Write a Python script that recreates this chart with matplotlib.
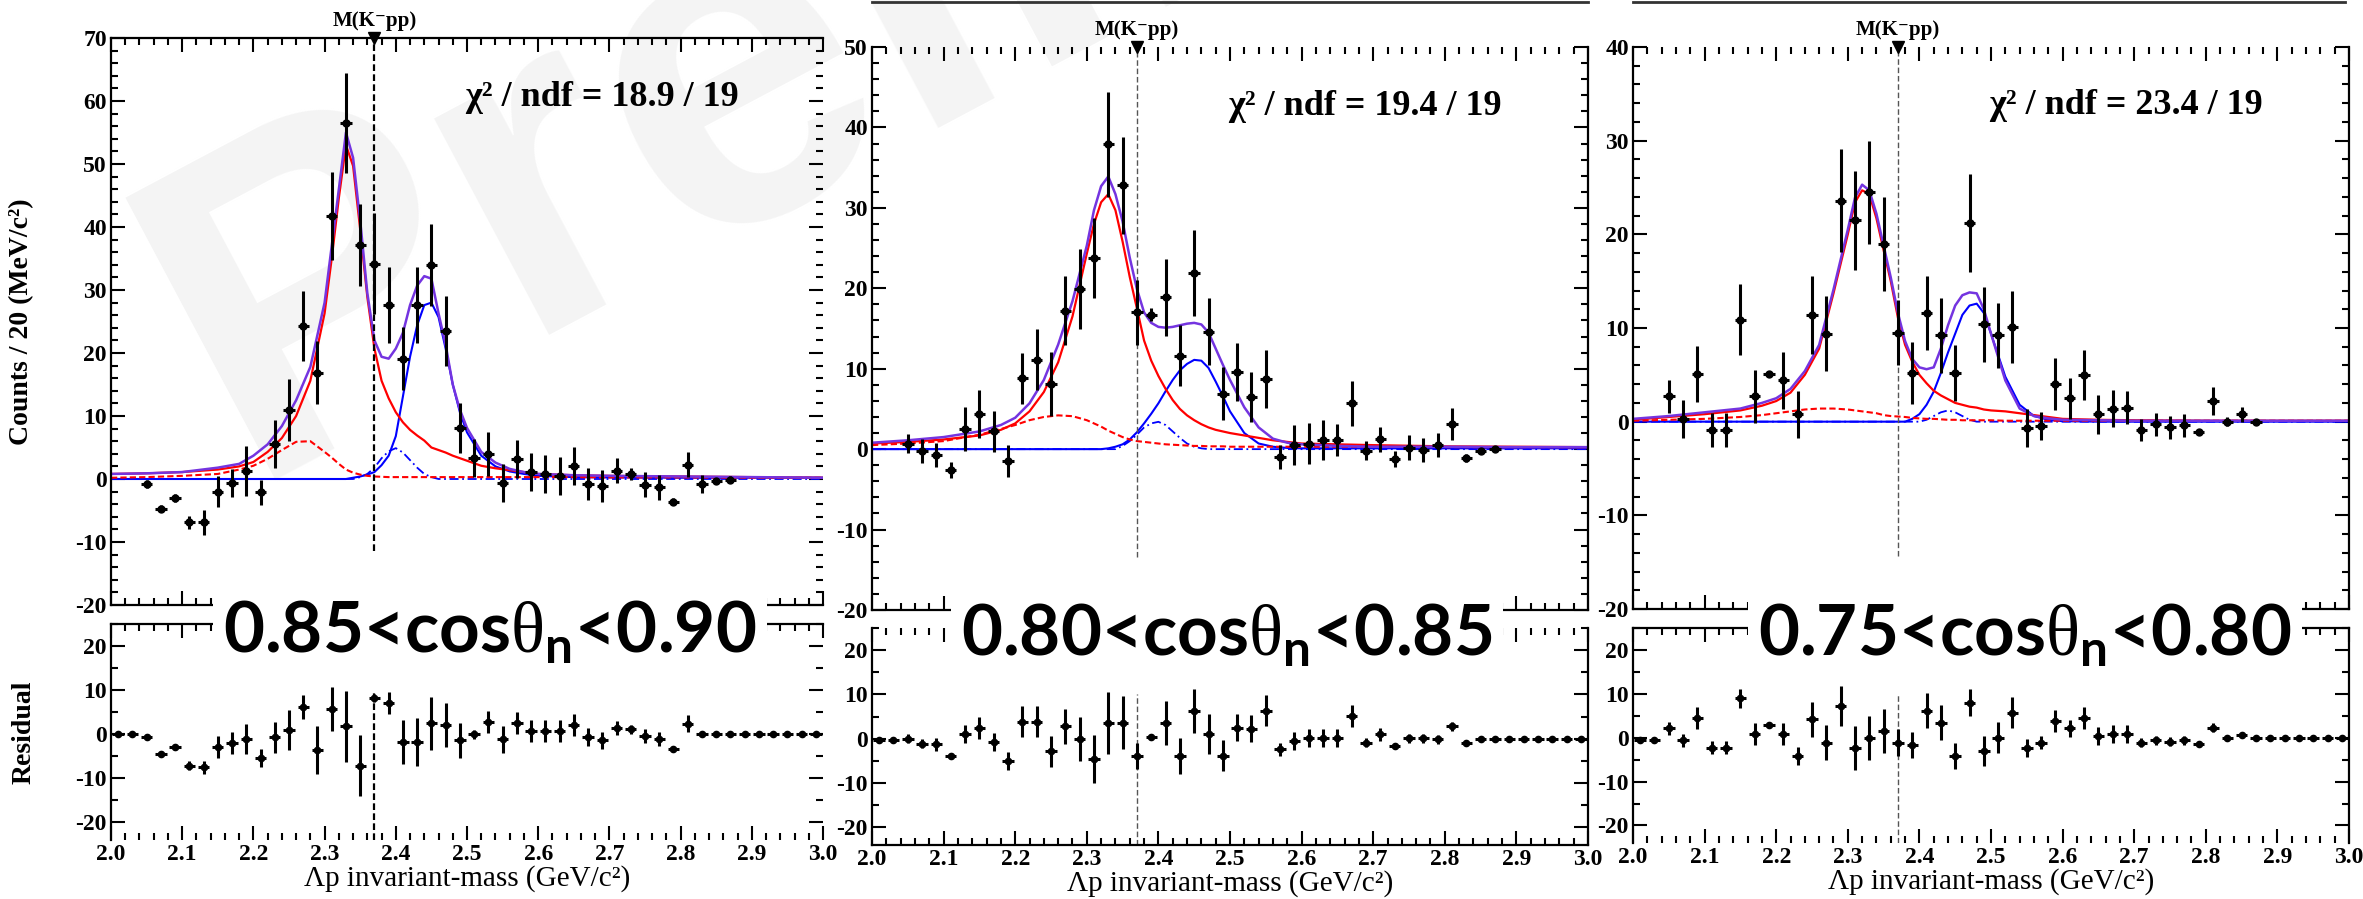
import matplotlib
matplotlib.use("Agg")
import matplotlib.pyplot as plt
from matplotlib.ticker import MultipleLocator
from matplotlib.lines import Line2D
import numpy as np

plt.rcParams['font.family'] = ['Liberation Serif', 'DejaVu Serif']
plt.rcParams['font.weight'] = 'bold'
plt.rcParams['axes.unicode_minus'] = False
plt.rcParams['mathtext.fontset'] = 'custom'
plt.rcParams['mathtext.rm'] = 'Liberation Serif:normal'
plt.rcParams['mathtext.bf'] = 'Lato:bold'

W, H = 2363, 899

M_KPP = 2.370  # K- p p mass threshold (GeV/c^2)

# 20 MeV bins between 2.0 and 3.0 GeV/c^2
bin_x = np.round(np.arange(2.01, 3.0, 0.02), 2)
data_x = bin_x[2:44]  # bins with entries in the spectrum, 2.05 .. 2.87

# x grid the fit components are tabulated on
fit_x = [2.00, 2.05, 2.10, 2.15, 2.18, 2.20, 2.22, 2.24, 2.26, 2.28,
         2.30, 2.31, 2.32, 2.33, 2.34, 2.35, 2.36, 2.37, 2.38, 2.39,
         2.40, 2.41, 2.42, 2.43, 2.44, 2.45, 2.46, 2.47, 2.48, 2.49,
         2.50, 2.52, 2.54, 2.56, 2.58, 2.60, 2.65, 2.70, 2.80, 2.90, 3.00]

# ---------- 0.85 < cos(theta_n) < 0.90 ----------
counts_a = [-0.8, -4.7, -3.0, -6.9, -6.9, -2.0, -0.6, 1.3, -2.1, 5.5,
            10.9, 24.3, 16.9, 41.8, 56.5, 37.2, 34.2, 27.6, 19.1, 27.6,
            34.0, 23.5, 8.1, 3.3, 4.0, -0.6, 3.2, 1.1, 0.8, 0.5,
            2.1, -0.8, -1.1, 1.3, 0.8, -0.9, -1.3, -3.6, 2.3, -0.8,
            -0.3, -0.1]
err_a = [0.6, 0.6, 0.6, 1.0, 2.0, 2.5, 2.2, 4.0, 2.0, 3.8,
         4.9, 5.6, 5.0, 7.0, 8.0, 6.5, 8.0, 6.0, 5.0, 6.0,
         6.5, 5.5, 4.0, 3.0, 3.5, 3.0, 3.0, 3.0, 3.0, 3.0,
         3.0, 2.5, 2.5, 2.0, 1.0, 2.0, 2.0, 0.6, 2.0, 1.5,
         0.5, 0.5]
resid_a = [0.0, 0.0, -0.7, -4.6, -3.0, -7.1, -7.5, -3.0, -2.1, -1.1,
           -5.4, -0.7, 0.9, 6.2, -3.6, 5.7, 1.8, -7.1, 8.2, 7.0,
           -1.8, -1.8, 2.5, 2.1, -1.4, 0.0, 2.7, -1.2, 2.5, 0.7,
           0.7, 0.7, 2.1, -0.7, -1.4, 1.4, 1.1, -0.4, -1.1, -3.4,
           2.4, 0.0, 0.0, 0.0, 0.0, 0.0, 0.0, 0.0, 0.0, 0.0]
resid_err_a = [0.3, 0.3, 0.5, 0.6, 0.6, 1.0, 1.5, 2.5, 2.5, 3.5,
               2.0, 3.5, 4.5, 2.7, 5.5, 5.0, 8.0, 7.0, 1.0, 2.5,
               5.0, 5.5, 6.0, 5.0, 4.0, 1.0, 2.5, 3.0, 2.5, 2.5,
               2.5, 2.5, 2.5, 2.0, 2.0, 1.5, 1.0, 1.5, 1.5, 0.5,
               2.0, 0.3, 0.3, 0.3, 0.3, 0.3, 0.3, 0.3, 0.3, 0.3]
total_a = [0.8, 0.9, 1.1, 1.8, 2.4, 3.7, 5.5, 8.4, 12.5, 17.8,
           28.0, 37.0, 46.0, 55.0, 51.0, 41.0, 29.5, 22.0, 19.4, 19.1,
           20.7, 23.2, 27.6, 30.7, 32.2, 31.8, 26.3, 21.3, 15.0, 11.0,
           8.1, 4.3, 2.6, 1.6, 1.1, 0.8, 0.6, 0.5, 0.4, 0.3, 0.2]
red_a = [0.8, 0.9, 1.1, 1.5, 2.0, 2.7, 4.3, 6.5, 10.0, 15.6,
         26.3, 35.0, 44.6, 53.0, 49.7, 39.6, 28.9, 20.7, 15.6, 12.8,
         10.6, 9.0, 7.8, 6.9, 6.1, 5.0, 4.6, 4.2, 3.7, 3.3,
         2.9, 2.1, 1.7, 1.4, 1.1, 0.8, 0.6, 0.5, 0.4, 0.3, 0.2]
red_bump_a = [0.2, 0.3, 0.5, 0.8, 1.5, 2.1, 3.2, 4.6, 5.9, 6.0,
              4.3, 3.4, 2.4, 1.5, 1.0, 0.7, 0.5, 0.4, 0.35, 0.3,
              0.3, 0.3, 0.3, 0.3, 0.3, 0.3, 0.3, 0.3, 0.3, 0.3,
              0.3, 0.3, 0.3, 0.3, 0.3, 0.3, 0.3, 0.25, 0.25, 0.2, 0.2]
blue_a = [0.0, 0.0, 0.0, 0.0, 0.0, 0.0, 0.0, 0.0, 0.0, 0.0,
          0.0, 0.0, 0.0, 0.0, 0.2, 0.4, 0.7, 1.1, 2.2, 3.7,
          6.8, 13.1, 19.4, 24.4, 27.6, 28.0, 25.7, 20.7, 15.0, 10.6,
          7.4, 3.7, 2.0, 1.2, 0.8, 0.5, 0.3, 0.25, 0.2, 0.2, 0.2]
blue_bump_a = [0.0, 0.0, 0.0, 0.0, 0.0, 0.0, 0.0, 0.0, 0.0, 0.0,
               0.0, 0.0, 0.0, 0.0, 0.0, 0.3, 0.8, 1.8, 3.3, 4.4,
               4.9, 4.2, 3.0, 1.8, 0.8, 0.3, 0.0, 0.0, 0.0, 0.0,
               0.0, 0.0, 0.0, 0.0, 0.0, 0.0, 0.0, 0.0, 0.0, 0.0, 0.0]

# ---------- 0.80 < cos(theta_n) < 0.85 ----------
counts_b = [0.7, -0.2, -0.7, -2.6, 2.5, 4.4, 2.2, -1.5, 8.8, 11.1,
            8.1, 17.2, 19.9, 23.8, 37.9, 32.8, 17.0, 16.7, 18.9, 11.6,
            21.9, 14.6, 6.9, 9.6, 6.5, 8.7, -1.0, 0.5, 0.7, 1.1,
            1.1, 5.7, -0.2, 1.2, -1.2, 0.2, -0.1, 0.5, 3.1, -1.1,
            -0.2, 0.0]
err_b = [1.2, 1.5, 1.5, 1.0, 2.7, 3.0, 2.5, 2.0, 3.2, 3.8,
         4.0, 4.3, 5.0, 5.0, 6.5, 6.0, 4.0, 0.8, 4.8, 3.8,
         5.3, 4.2, 3.3, 3.6, 3.1, 3.6, 1.5, 2.5, 2.5, 2.5,
         2.0, 2.8, 1.2, 1.5, 1.0, 1.5, 1.5, 1.5, 2.0, 0.5,
         0.3, 0.3]
resid_b = [-0.4, -0.4, 0.0, -1.1, -1.3, -3.9, 1.0, 2.5, -0.7, -5.0,
           3.8, 3.8, -2.8, 2.8, -0.1, -4.6, 3.6, 3.6, -3.9, 0.4,
           3.6, -3.9, 6.3, 1.0, -3.9, 2.5, 2.3, 6.3, -2.4, -0.5,
           0.2, 0.2, 0.2, 5.1, -0.9, 1.0, -1.6, 0.1, 0.1, -0.1,
           2.8, -0.9, 0.0, 0.0, 0.0, 0.0, 0.0, 0.0, 0.0, 0.0]
resid_err_b = [0.3, 0.3, 1.0, 1.0, 1.5, 0.5, 2.0, 2.5, 2.0, 2.0,
               3.5, 3.5, 3.5, 4.0, 5.0, 5.5, 7.0, 6.0, 3.0, 0.5,
               5.0, 4.0, 5.0, 4.5, 3.5, 3.0, 3.0, 3.5, 1.5, 2.0,
               2.0, 2.0, 2.0, 2.5, 1.0, 1.5, 0.5, 1.0, 1.0, 1.0,
               1.0, 0.3, 0.3, 0.3, 0.3, 0.3, 0.3, 0.3, 0.3, 0.3]
total_b = [0.8, 1.1, 1.5, 2.2, 3.0, 3.9, 5.7, 8.6, 13.0, 18.4,
           25.3, 29.7, 32.7, 33.9, 31.7, 28.3, 23.8, 19.9, 17.0, 15.7,
           15.2, 15.1, 15.2, 15.4, 15.6, 15.7, 15.5, 14.5, 12.5, 10.5,
           8.6, 5.2, 2.7, 1.3, 0.8, 0.6, 0.4, 0.3, 0.3, 0.25, 0.25]
red_b = [0.7, 0.9, 1.2, 1.7, 2.4, 3.2, 4.7, 7.1, 10.8, 16.5,
         24.3, 28.0, 30.7, 31.7, 29.7, 25.8, 21.4, 17.5, 13.5, 11.0,
         9.1, 7.5, 6.1, 5.0, 4.2, 3.6, 3.1, 2.7, 2.4, 2.2,
         2.0, 1.7, 1.4, 1.1, 0.9, 0.7, 0.6, 0.5, 0.35, 0.3, 0.25]
red_bump_b = [0.5, 0.7, 1.0, 1.8, 2.5, 3.0, 3.6, 4.0, 4.2, 4.1,
              3.6, 3.2, 2.8, 2.3, 1.9, 1.5, 1.2, 1.0, 0.9, 0.8,
              0.7, 0.6, 0.55, 0.5, 0.45, 0.4, 0.4, 0.35, 0.35, 0.35,
              0.3, 0.3, 0.3, 0.3, 0.3, 0.3, 0.3, 0.3, 0.25, 0.25, 0.25]
blue_b = [0.0, 0.0, 0.0, 0.0, 0.0, 0.0, 0.0, 0.0, 0.0, 0.0,
          0.0, 0.0, 0.0, 0.1, 0.3, 0.6, 1.2, 2.1, 3.2, 4.4,
          5.7, 7.2, 8.6, 9.8, 10.6, 11.1, 11.0, 10.1, 8.4, 6.6,
          4.7, 2.0, 0.7, 0.3, 0.15, 0.1, 0.1, 0.1, 0.1, 0.1, 0.1]
blue_bump_b = [0.0, 0.0, 0.0, 0.0, 0.0, 0.0, 0.0, 0.0, 0.0, 0.0,
               0.0, 0.0, 0.0, 0.0, 0.0, 0.4, 1.0, 1.8, 2.7, 3.2,
               3.4, 3.0, 2.2, 1.4, 0.7, 0.3, 0.1, 0.0, 0.0, 0.0,
               0.0, 0.0, 0.0, 0.0, 0.0, 0.0, 0.0, 0.0, 0.0, 0.0, 0.0]

# ---------- 0.75 < cos(theta_n) < 0.80 ----------
counts_c = [2.7, 0.3, 5.1, -0.9, -0.9, 10.9, 2.7, 5.1, 4.4, 0.8,
            11.4, 9.4, 23.6, 21.5, 24.5, 19.0, 9.5, 5.2, 11.6, 9.2,
            5.2, 21.2, 10.4, 9.2, 10.1, -0.7, -0.5, 4.0, 2.5, 5.0,
            0.8, 1.4, 1.5, -0.9, -0.3, -0.6, -0.4, -1.1, 2.2, 0.0,
            0.8, 0.0]
err_c = [1.8, 2.0, 3.0, 1.8, 1.8, 3.8, 2.8, 0.3, 3.0, 2.5,
         4.2, 4.0, 5.5, 5.3, 5.5, 5.0, 3.5, 3.3, 4.0, 4.0,
         3.0, 5.2, 4.0, 3.5, 3.8, 2.0, 1.5, 2.8, 2.2, 2.7,
         2.1, 2.0, 1.8, 1.2, 1.2, 1.2, 1.2, 0.3, 1.5, 0.5,
         0.8, 0.3]
resid_c = [-0.6, -0.6, 2.1, -0.6, 4.4, -2.3, -2.3, 9.0, 0.9, 2.8,
           0.9, -4.2, 4.2, -1.1, 7.2, -2.3, 0.0, 1.5, -1.1, -1.7,
           6.1, 3.4, -4.2, 8.0, -3.0, 0.0, 5.7, -2.3, -1.1, 3.8,
           2.1, 4.4, 0.4, 0.9, 0.9, -1.1, -0.6, -0.9, -0.6, -1.4,
           2.3, 0.0, 0.6, 0.0, 0.0, 0.0, 0.0, 0.0, 0.0, 0.0]
resid_err_c = [0.3, 0.3, 1.5, 1.5, 2.5, 1.5, 1.5, 2.2, 2.5, 0.3,
               2.5, 2.0, 4.0, 4.0, 4.5, 5.0, 5.0, 5.0, 3.0, 3.0,
               4.0, 4.0, 3.0, 3.0, 3.5, 3.5, 3.5, 2.0, 1.5, 2.5,
               2.0, 2.5, 2.0, 2.0, 2.0, 1.0, 1.0, 1.0, 1.0, 0.3,
               1.0, 0.5, 0.5, 0.3, 0.3, 0.3, 0.3, 0.3, 0.3, 0.3]
total_c = [0.3, 0.6, 1.0, 1.4, 2.0, 2.5, 3.5, 5.4, 8.2, 14.1,
           20.5, 23.9, 25.3, 24.7, 22.2, 18.8, 15.4, 11.6, 8.6, 6.7,
           5.8, 5.6, 5.8, 7.8, 10.3, 12.4, 13.5, 13.8, 13.7, 12.0,
           9.4, 4.4, 1.4, 0.6, 0.35, 0.2, 0.15, 0.1, 0.1, 0.1, 0.1]
red_c = [0.2, 0.5, 0.8, 1.2, 1.7, 2.2, 3.1, 5.0, 7.8, 13.7,
         20.0, 23.4, 24.7, 24.3, 21.7, 18.3, 15.0, 11.1, 8.2, 6.4,
         5.0, 4.1, 3.3, 2.8, 2.4, 2.0, 1.8, 1.6, 1.5, 1.3,
         1.2, 1.1, 0.9, 0.7, 0.5, 0.3, 0.2, 0.15, 0.1, 0.1, 0.1]
red_bump_c = [0.1, 0.2, 0.3, 0.5, 0.7, 0.9, 1.1, 1.3, 1.4, 1.4,
              1.3, 1.2, 1.1, 1.0, 0.9, 0.7, 0.6, 0.55, 0.5, 0.4,
              0.35, 0.3, 0.3, 0.25, 0.2, 0.2, 0.15, 0.15, 0.15, 0.15,
              0.15, 0.1, 0.1, 0.1, 0.1, 0.1, 0.1, 0.1, 0.1, 0.1, 0.1]
blue_c = [0.0, 0.0, 0.0, 0.0, 0.0, 0.0, 0.0, 0.0, 0.0, 0.0,
          0.0, 0.0, 0.0, 0.0, 0.0, 0.0, 0.0, 0.0, 0.0, 0.3,
          0.8, 1.8, 3.2, 5.2, 7.4, 9.4, 11.4, 12.4, 12.6, 11.6,
          9.4, 4.8, 1.8, 0.6, 0.2, 0.05, 0.0, 0.0, 0.0, 0.0, 0.0]
blue_bump_c = [0.0, 0.0, 0.0, 0.0, 0.0, 0.0, 0.0, 0.0, 0.0, 0.0,
               0.0, 0.0, 0.0, 0.0, 0.0, 0.0, 0.0, 0.0, 0.0, 0.0,
               0.0, 0.2, 0.6, 1.0, 1.2, 1.0, 0.6, 0.2, 0.0, 0.0,
               0.0, 0.0, 0.0, 0.0, 0.0, 0.0, 0.0, 0.0, 0.0, 0.0, 0.0]

PURPLE = '#7434e0'


def px_axes(fig, left, top, right, bottom):
    return fig.add_axes([left / W, 1 - bottom / H, (right - left) / W, (bottom - top) / H],
                        facecolor='none')


def style_axis(ax, ymajor, yminor, hidden):
    ax.set_xlim(2.0, 3.0)
    ax.xaxis.set_major_locator(MultipleLocator(0.1))
    ax.xaxis.set_minor_locator(MultipleLocator(0.02))
    ax.yaxis.set_major_locator(MultipleLocator(ymajor))
    ax.yaxis.set_minor_locator(MultipleLocator(yminor))
    ax.tick_params(which='both', direction='in', top=True, right=True, width=1.5)
    ax.tick_params(which='major', length=10, labelsize=17, pad=3)
    ax.tick_params(which='minor', length=5)
    for side, sp in ax.spines.items():
        sp.set_linewidth(1.6)
        if side in hidden:
            sp.set_visible(False)


def draw_panel(fig, main_box, res_box, ylim, counts, err, resid, rerr,
               total, red, red_bump, blue, blue_bump, chi2, hide_main, hide_res,
               thick_marker_line, first=False):
    ax = px_axes(fig, *main_box)
    ax.set_ylim(*ylim)
    style_axis(ax, 10, 2, hide_main)
    ax.tick_params(labelbottom=False)

    ax.plot(fit_x, blue, color='#0000ff', lw=1.5)
    ax.plot(fit_x, blue_bump, color='#0000ff', lw=1.3, ls=(0, (5, 2, 1, 2)))
    ax.plot(fit_x, red_bump, color='#ff0000', lw=1.5, ls=(0, (3, 1.5)))
    ax.plot(fit_x, red, color='#ff0000', lw=1.6)
    ax.plot(fit_x, total, color=PURPLE, lw=1.8)

    ax.errorbar(data_x, counts, yerr=err, xerr=0.008, fmt='o', ms=5,
                color='k', elinewidth=2.2, capsize=0, zorder=5)

    if thick_marker_line:
        vstyle = dict(color='k', lw=1.6, ls=(0, (3, 1.5)))
    else:
        vstyle = dict(color='#555555', lw=1.0, ls=(0, (4, 2)))
    ax.axvline(M_KPP, ymin=0.095, ymax=1.0, **vstyle)
    ax.plot([M_KPP], [ylim[1]], marker='v', ms=8, color='k', clip_on=False, zorder=6)
    ax.text(M_KPP, ylim[1] + (ylim[1] - ylim[0]) * 0.012, 'M(K\u207bpp)',
            ha='center', va='bottom', fontsize=15)

    ax.text(0.497, 0.88, chi2, transform=ax.transAxes, fontsize=26,
            ha='left', va='baseline')

    axr = px_axes(fig, *res_box)
    axr.set_ylim(-24, 25)
    style_axis(axr, 10, 5, hide_res)
    axr.errorbar(bin_x, resid, yerr=rerr, xerr=0.008, fmt='o', ms=4.5,
                 color='k', elinewidth=2.2, capsize=0, zorder=5)
    axr.axvline(M_KPP, ymin=0.0, ymax=(10 + 24) / 49, **vstyle)
    axr.set_xlabel('\u039bp invariant-mass (GeV/c\u00b2)', fontsize=21,
                   fontweight='normal', labelpad=0)

    if first:
        ax.set_ylabel('Counts / 20 (MeV/c\u00b2)', fontsize=20, fontweight='bold')
        ax.yaxis.set_label_coords(-0.108, 0.5)
        axr.set_ylabel('Residual', fontsize=20, fontweight='bold')
        axr.yaxis.set_label_coords(-0.104, 0.5)
    return ax, axr


fig = plt.figure(figsize=(W / 100, H / 100), dpi=100)

# faint "Preliminary" stamp behind the plots (runs off the top edge)
fig.text(245 / W, 1 - 480 / H, 'Preliminary', rotation=28, rotation_mode='anchor',
         ha='left', va='baseline', fontsize=335, color='#f4f4f4',
         family='Liberation Sans', weight='bold', zorder=-5)

# bottom edges of the row above
for x0, x1 in [(872, 1588), (1633, 2345)]:
    fig.add_artist(Line2D([x0 / W, x1 / W], [1 - 2 / H, 1 - 2 / H], lw=2, color='#333333'))

draw_panel(fig, (111, 38, 823, 605), (111, 624, 823, 840), (-20, 70),
           counts_a, err_a, resid_a, resid_err_a,
           total_a, red_a, red_bump_a, blue_a, blue_bump_a,
           '\u03c7\u00b2 / ndf = 18.9 / 19', ['right'], ['right', 'bottom'],
           True, first=True)
draw_panel(fig, (872, 47, 1588, 610), (872, 628, 1588, 845), (-20, 50),
           counts_b, err_b, resid_b, resid_err_b,
           total_b, red_b, red_bump_b, blue_b, blue_bump_b,
           '\u03c7\u00b2 / ndf = 19.4 / 19', ['top'], ['top'], False)
draw_panel(fig, (1633, 47, 2349, 609), (1633, 628, 2349, 843), (-20, 40),
           counts_c, err_c, resid_c, resid_err_c,
           total_c, red_c, red_bump_c, blue_c, blue_bump_c,
           '\u03c7\u00b2 / ndf = 23.4 / 19', ['top'], ['bottom'], False)

# cos(theta_n) slice labels sitting across the main/residual boundary
cut_labels = [(490, 652, r'0.85<cos$\mathrm{\theta}_\mathbf{n}$<0.90'),
              (1227, 655, r'0.80<cos$\mathrm{\theta}_\mathbf{n}$<0.85'),
              (2025, 655, r'0.75<cos$\mathrm{\theta}_\mathbf{n}$<0.80')]
for cx, base, txt in cut_labels:
    fig.text(cx / W, 1 - base / H, txt, ha='center', va='baseline', fontsize=51,
             family=['Lato', 'DejaVu Sans'], weight='bold', zorder=10,
             bbox=dict(facecolor='white', edgecolor='none', boxstyle='square,pad=0.15'))

fig.savefig('out.png', dpi=100)
